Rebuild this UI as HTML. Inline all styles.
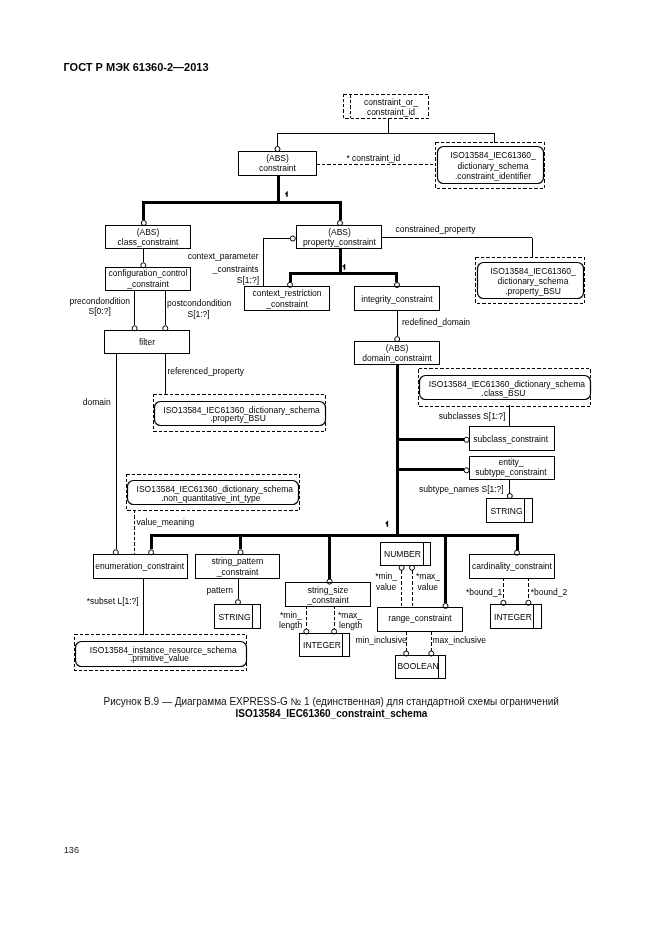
<!DOCTYPE html>
<html><head><meta charset="utf-8"><style>
html,body{margin:0;padding:0;background:#fff;}
svg{display:block;will-change:transform;}
text{font-family:"Liberation Sans",sans-serif;}
</style></head><body>
<svg width="661" height="935" viewBox="0 0 661 935">
<rect width="661" height="935" fill="#fff"/>
<circle cx="277.5" cy="149.0" r="2.5" fill="#fff" stroke="#000" stroke-width="1"/>
<circle cx="143.8" cy="223.0" r="2.5" fill="#fff" stroke="#000" stroke-width="1"/>
<circle cx="340" cy="223.0" r="2.5" fill="#fff" stroke="#000" stroke-width="1"/>
<circle cx="292.8" cy="238.5" r="2.5" fill="#fff" stroke="#000" stroke-width="1"/>
<circle cx="143.3" cy="265.3" r="2.5" fill="#fff" stroke="#000" stroke-width="1"/>
<circle cx="134.6" cy="328.3" r="2.5" fill="#fff" stroke="#000" stroke-width="1"/>
<circle cx="165.3" cy="328.3" r="2.5" fill="#fff" stroke="#000" stroke-width="1"/>
<circle cx="290" cy="284.8" r="2.5" fill="#fff" stroke="#000" stroke-width="1"/>
<circle cx="397" cy="285.0" r="2.5" fill="#fff" stroke="#000" stroke-width="1"/>
<circle cx="397.2" cy="339.1" r="2.5" fill="#fff" stroke="#000" stroke-width="1"/>
<circle cx="466.6" cy="439.8" r="2.5" fill="#fff" stroke="#000" stroke-width="1"/>
<circle cx="466.6" cy="470.3" r="2.5" fill="#fff" stroke="#000" stroke-width="1"/>
<circle cx="509.8" cy="496.0" r="2.5" fill="#fff" stroke="#000" stroke-width="1"/>
<circle cx="115.8" cy="552.3" r="2.5" fill="#fff" stroke="#000" stroke-width="1"/>
<circle cx="151.1" cy="552.3" r="2.5" fill="#fff" stroke="#000" stroke-width="1"/>
<circle cx="240.5" cy="552.3" r="2.5" fill="#fff" stroke="#000" stroke-width="1"/>
<circle cx="329.6" cy="581.6" r="2.5" fill="#fff" stroke="#000" stroke-width="1"/>
<circle cx="445.5" cy="605.9" r="2.5" fill="#fff" stroke="#000" stroke-width="1"/>
<circle cx="517" cy="552.7" r="2.5" fill="#fff" stroke="#000" stroke-width="1"/>
<circle cx="238" cy="602.2" r="2.5" fill="#fff" stroke="#000" stroke-width="1"/>
<circle cx="306.3" cy="631.5" r="2.5" fill="#fff" stroke="#000" stroke-width="1"/>
<circle cx="334.1" cy="631.5" r="2.5" fill="#fff" stroke="#000" stroke-width="1"/>
<circle cx="401.6" cy="567.8" r="2.5" fill="#fff" stroke="#000" stroke-width="1"/>
<circle cx="412" cy="567.8" r="2.5" fill="#fff" stroke="#000" stroke-width="1"/>
<circle cx="406.2" cy="653.5" r="2.5" fill="#fff" stroke="#000" stroke-width="1"/>
<circle cx="431.3" cy="653.5" r="2.5" fill="#fff" stroke="#000" stroke-width="1"/>
<circle cx="503.4" cy="602.8" r="2.5" fill="#fff" stroke="#000" stroke-width="1"/>
<circle cx="528.4" cy="602.8" r="2.5" fill="#fff" stroke="#000" stroke-width="1"/>
<text x="63.5" y="71" font-size="11" font-weight="bold" fill="#000">ГОСТ Р МЭК 61360-2—2013</text>
<rect x="343.5" y="94.5" width="85.0" height="24.0" fill="none" stroke="#000" stroke-width="1" stroke-dasharray="3.4 2" shape-rendering="crispEdges"/>
<line x1="350.5" y1="94.5" x2="350.5" y2="118" stroke="#000" stroke-width="1" stroke-dasharray="3.4 2" shape-rendering="crispEdges"/>
<text x="391" y="105" font-size="8.5" text-anchor="middle" fill="#000">constraint_or_</text>
<text x="391" y="114.5" font-size="8.5" text-anchor="middle" fill="#000">constraint_id</text>
<line x1="388.5" y1="118" x2="388.5" y2="133" stroke="#000" stroke-width="1" shape-rendering="crispEdges"/>
<line x1="277.5" y1="133.5" x2="494.5" y2="133.5" stroke="#000" stroke-width="1" shape-rendering="crispEdges"/>
<line x1="277.5" y1="133" x2="277.5" y2="146" stroke="#000" stroke-width="1" shape-rendering="crispEdges"/>
<line x1="494.5" y1="133" x2="494.5" y2="142.5" stroke="#000" stroke-width="1" shape-rendering="crispEdges"/>
<rect x="238.5" y="151.5" width="78.0" height="24.0" fill="none" stroke="#000" stroke-width="1" shape-rendering="crispEdges"/>
<text x="277.5" y="160.5" font-size="8.5" text-anchor="middle" fill="#000">(ABS)</text>
<text x="277.5" y="171" font-size="8.5" text-anchor="middle" fill="#000">constraint</text>
<line x1="316.5" y1="164.5" x2="435.5" y2="164.5" stroke="#000" stroke-width="1" stroke-dasharray="3.4 2" shape-rendering="crispEdges"/>
<text x="346.4" y="160.7" font-size="8.5" fill="#000">* constraint_id</text>
<rect x="435.5" y="142.5" width="109.0" height="46.0" fill="none" stroke="#000" stroke-width="1" stroke-dasharray="3.4 2" shape-rendering="crispEdges"/>
<rect x="437.5" y="146.5" width="106.0" height="37.0" fill="none" stroke="#000" stroke-width="1.2" rx="6"/>
<text x="493" y="158.3" font-size="8.5" text-anchor="middle" fill="#000">ISO13584_IEC61360_</text>
<text x="493" y="169" font-size="8.5" text-anchor="middle" fill="#000">dictionary_schema</text>
<text x="493" y="179" font-size="8.5" text-anchor="middle" fill="#000">.constraint_identifier</text>
<line x1="278.5" y1="175.5" x2="278.5" y2="202.3" stroke="#000" stroke-width="3" shape-rendering="crispEdges"/>
<line x1="142.3" y1="202.5" x2="341.5" y2="202.5" stroke="#000" stroke-width="3" shape-rendering="crispEdges"/>
<line x1="143.5" y1="202.3" x2="143.5" y2="220" stroke="#000" stroke-width="3" shape-rendering="crispEdges"/>
<line x1="340.5" y1="202.3" x2="340.5" y2="220" stroke="#000" stroke-width="3" shape-rendering="crispEdges"/>
<path d="M287,196.8 V192.6 L285.4,194.2" stroke="#000" stroke-width="1.5" fill="none"/>
<rect x="105.5" y="225.5" width="85.0" height="23.0" fill="none" stroke="#000" stroke-width="1" shape-rendering="crispEdges"/>
<text x="148" y="235" font-size="8.5" text-anchor="middle" fill="#000">(ABS)</text>
<text x="148" y="245" font-size="8.5" text-anchor="middle" fill="#000">class_constraint</text>
<rect x="296.5" y="225.5" width="85.0" height="23.0" fill="none" stroke="#000" stroke-width="1" shape-rendering="crispEdges"/>
<text x="339.5" y="235" font-size="8.5" text-anchor="middle" fill="#000">(ABS)</text>
<text x="339.5" y="245" font-size="8.5" text-anchor="middle" fill="#000">property_constraint</text>
<line x1="263.5" y1="238.5" x2="290.3" y2="238.5" stroke="#000" stroke-width="1" shape-rendering="crispEdges"/>
<line x1="263.5" y1="238" x2="263.5" y2="286.7" stroke="#000" stroke-width="1" shape-rendering="crispEdges"/>
<text x="258.5" y="258.6" font-size="8.5" text-anchor="end" fill="#000">context_parameter</text>
<text x="258.5" y="271.8" font-size="8.5" text-anchor="end" fill="#000">_constraints</text>
<text x="259" y="283.4" font-size="8.5" text-anchor="end" fill="#000">S[1:?]</text>
<line x1="381.5" y1="237.5" x2="532" y2="237.5" stroke="#000" stroke-width="1" shape-rendering="crispEdges"/>
<line x1="532.5" y1="237.5" x2="532.5" y2="257.5" stroke="#000" stroke-width="1" shape-rendering="crispEdges"/>
<text x="395.6" y="231.7" font-size="8.5" fill="#000">constrained_property</text>
<rect x="475.5" y="257.5" width="109.0" height="46.0" fill="none" stroke="#000" stroke-width="1" stroke-dasharray="3.4 2" shape-rendering="crispEdges"/>
<rect x="477.5" y="262.5" width="106.0" height="36.0" fill="none" stroke="#000" stroke-width="1.2" rx="6"/>
<text x="533" y="274" font-size="8.5" text-anchor="middle" fill="#000">ISO13584_IEC61360_</text>
<text x="533" y="283.8" font-size="8.5" text-anchor="middle" fill="#000">dictionary_schema</text>
<text x="533" y="293.7" font-size="8.5" text-anchor="middle" fill="#000">.property_BSU</text>
<line x1="143.5" y1="248.5" x2="143.5" y2="262.3" stroke="#000" stroke-width="1" shape-rendering="crispEdges"/>
<rect x="105.5" y="267.5" width="85.0" height="23.0" fill="none" stroke="#000" stroke-width="1" shape-rendering="crispEdges"/>
<text x="148" y="276" font-size="8.5" text-anchor="middle" fill="#000">configuration_control</text>
<text x="148" y="287" font-size="8.5" text-anchor="middle" fill="#000">_constraint</text>
<line x1="134.5" y1="290.5" x2="134.5" y2="325.3" stroke="#000" stroke-width="1" shape-rendering="crispEdges"/>
<line x1="165.5" y1="290.5" x2="165.5" y2="325.3" stroke="#000" stroke-width="1" shape-rendering="crispEdges"/>
<text x="69.5" y="303.6" font-size="8.5" fill="#000">precondondition</text>
<text x="88.6" y="313.6" font-size="8.5" fill="#000">S[0:?]</text>
<text x="167" y="306.2" font-size="8.5" fill="#000">postcondondition</text>
<text x="187.5" y="316.8" font-size="8.5" fill="#000">S[1:?]</text>
<rect x="104.5" y="330.5" width="85.0" height="23.0" fill="none" stroke="#000" stroke-width="1" shape-rendering="crispEdges"/>
<text x="147" y="344.7" font-size="8.5" text-anchor="middle" fill="#000">filter</text>
<line x1="340.5" y1="248.5" x2="340.5" y2="273.8" stroke="#000" stroke-width="3" shape-rendering="crispEdges"/>
<line x1="289" y1="273.5" x2="398" y2="273.5" stroke="#000" stroke-width="3" shape-rendering="crispEdges"/>
<line x1="290.5" y1="273.8" x2="290.5" y2="282" stroke="#000" stroke-width="3" shape-rendering="crispEdges"/>
<line x1="396.5" y1="273.8" x2="396.5" y2="282" stroke="#000" stroke-width="3" shape-rendering="crispEdges"/>
<path d="M344.5,269.8 V265.2 L342.9,266.8" stroke="#000" stroke-width="1.5" fill="none"/>
<rect x="244.5" y="286.5" width="85.0" height="24.0" fill="none" stroke="#000" stroke-width="1" shape-rendering="crispEdges"/>
<text x="287" y="296.2" font-size="8.5" text-anchor="middle" fill="#000">context_restriction</text>
<text x="287" y="306.7" font-size="8.5" text-anchor="middle" fill="#000">_constraint</text>
<rect x="354.5" y="286.5" width="85.0" height="24.0" fill="none" stroke="#000" stroke-width="1" shape-rendering="crispEdges"/>
<text x="397" y="302" font-size="8.5" text-anchor="middle" fill="#000">integrity_constraint</text>
<line x1="397.5" y1="310" x2="397.5" y2="336" stroke="#000" stroke-width="1" shape-rendering="crispEdges"/>
<text x="402" y="324.8" font-size="8.5" fill="#000">redefined_domain</text>
<rect x="354.5" y="341.5" width="85.0" height="23.0" fill="none" stroke="#000" stroke-width="1" shape-rendering="crispEdges"/>
<text x="397" y="351" font-size="8.5" text-anchor="middle" fill="#000">(ABS)</text>
<text x="397" y="361" font-size="8.5" text-anchor="middle" fill="#000">domain_constraint</text>
<line x1="397.5" y1="364" x2="397.5" y2="535.3" stroke="#000" stroke-width="3" shape-rendering="crispEdges"/>
<rect x="418.5" y="368.5" width="172.0" height="38.0" fill="none" stroke="#000" stroke-width="1" stroke-dasharray="3.4 2" shape-rendering="crispEdges"/>
<rect x="419.5" y="375.5" width="171.0" height="24.0" fill="none" stroke="#000" stroke-width="1.2" rx="6"/>
<text x="428.7" y="387.2" font-size="8.5" fill="#000">ISO13584_IEC61360_dictionary_schema</text>
<text x="503.5" y="396.3" font-size="8.5" text-anchor="middle" fill="#000">.class_BSU</text>
<line x1="509.5" y1="405" x2="509.5" y2="426.8" stroke="#000" stroke-width="1" shape-rendering="crispEdges"/>
<text x="438.7" y="419.1" font-size="8.5" fill="#000">subclasses S[1:?]</text>
<rect x="469.5" y="426.5" width="85.0" height="24.0" fill="none" stroke="#000" stroke-width="1" shape-rendering="crispEdges"/>
<text x="510.7" y="442.1" font-size="8.5" text-anchor="middle" fill="#000">subclass_constraint</text>
<line x1="397.5" y1="439.5" x2="464" y2="439.5" stroke="#000" stroke-width="3" shape-rendering="crispEdges"/>
<rect x="469.5" y="456.5" width="85.0" height="23.0" fill="none" stroke="#000" stroke-width="1" shape-rendering="crispEdges"/>
<text x="511" y="465.4" font-size="8.5" text-anchor="middle" fill="#000">entity_</text>
<text x="511" y="474.7" font-size="8.5" text-anchor="middle" fill="#000">subtype_constraint</text>
<line x1="397.5" y1="469.5" x2="464" y2="469.5" stroke="#000" stroke-width="3" shape-rendering="crispEdges"/>
<line x1="509.5" y1="479.3" x2="509.5" y2="494" stroke="#000" stroke-width="1" shape-rendering="crispEdges"/>
<text x="419.1" y="492.1" font-size="8.5" fill="#000">subtype_names S[1:?]</text>
<rect x="486.5" y="498.5" width="46.0" height="24.0" fill="none" stroke="#000" stroke-width="1" shape-rendering="crispEdges"/>
<line x1="524.5" y1="498.5" x2="524.5" y2="522.5" stroke="#000" stroke-width="1" shape-rendering="crispEdges"/>
<text x="506.5" y="514" font-size="8.5" text-anchor="middle" fill="#000">STRING</text>
<line x1="116.5" y1="353.5" x2="116.5" y2="549.3" stroke="#000" stroke-width="1" shape-rendering="crispEdges"/>
<text x="82.8" y="404.7" font-size="8.5" fill="#000">domain</text>
<line x1="165.5" y1="353.5" x2="165.5" y2="394.5" stroke="#000" stroke-width="1" shape-rendering="crispEdges"/>
<text x="167.4" y="374.1" font-size="8.5" fill="#000">referenced_property</text>
<rect x="153.5" y="394.5" width="172.0" height="37.0" fill="none" stroke="#000" stroke-width="1" stroke-dasharray="3.4 2" shape-rendering="crispEdges"/>
<rect x="154.5" y="401.5" width="171.0" height="24.0" fill="none" stroke="#000" stroke-width="1.2" rx="6"/>
<text x="163.3" y="413.3" font-size="8.5" fill="#000">ISO13584_IEC61360_dictionary_schema</text>
<text x="238" y="421" font-size="8.5" text-anchor="middle" fill="#000">.property_BSU</text>
<rect x="126.5" y="474.5" width="173.0" height="36.0" fill="none" stroke="#000" stroke-width="1" stroke-dasharray="3.4 2" shape-rendering="crispEdges"/>
<rect x="127.5" y="480.5" width="171.0" height="24.0" fill="none" stroke="#000" stroke-width="1.2" rx="6"/>
<text x="136.6" y="492.4" font-size="8.5" fill="#000">ISO13584_IEC61360_dictionary_schema</text>
<text x="210.8" y="501" font-size="8.5" text-anchor="middle" fill="#000">.non_quantitative_int_type</text>
<line x1="134.5" y1="510" x2="134.5" y2="554.2" stroke="#000" stroke-width="1" stroke-dasharray="3.4 2" shape-rendering="crispEdges"/>
<text x="136.6" y="525" font-size="8.5" fill="#000">value_meaning</text>
<rect x="74.5" y="634.5" width="172.0" height="36.0" fill="none" stroke="#000" stroke-width="1" stroke-dasharray="3.4 2" shape-rendering="crispEdges"/>
<rect x="75.5" y="641.5" width="171.0" height="25.0" fill="none" stroke="#000" stroke-width="1.2" rx="6"/>
<text x="89.7" y="652.5" font-size="8.5" fill="#000">ISO13584_instance_resource_schema</text>
<text x="159.5" y="661" font-size="8.5" text-anchor="middle" fill="#000">.primitive_value</text>
<line x1="149.6" y1="535.5" x2="518.5" y2="535.5" stroke="#000" stroke-width="3" shape-rendering="crispEdges"/>
<path d="M387.4,526.8 V522 L385.79999999999995,523.6" stroke="#000" stroke-width="1.5" fill="none"/>
<line x1="151.5" y1="535.3" x2="151.5" y2="549.3" stroke="#000" stroke-width="3" shape-rendering="crispEdges"/>
<line x1="240.5" y1="535.3" x2="240.5" y2="549.3" stroke="#000" stroke-width="3" shape-rendering="crispEdges"/>
<line x1="329.5" y1="535.3" x2="329.5" y2="578.6" stroke="#000" stroke-width="3" shape-rendering="crispEdges"/>
<line x1="445.5" y1="535.3" x2="445.5" y2="602.9" stroke="#000" stroke-width="3" shape-rendering="crispEdges"/>
<line x1="517.5" y1="535.3" x2="517.5" y2="549.7" stroke="#000" stroke-width="3" shape-rendering="crispEdges"/>
<rect x="93.5" y="554.5" width="94.0" height="24.0" fill="none" stroke="#000" stroke-width="1" shape-rendering="crispEdges"/>
<text x="139.7" y="569" font-size="8.5" text-anchor="middle" fill="#000">enumeration_constraint</text>
<line x1="143.5" y1="578" x2="143.5" y2="635" stroke="#000" stroke-width="1" shape-rendering="crispEdges"/>
<text x="86.7" y="604" font-size="8.5" fill="#000">*subset L[1:?]</text>
<rect x="195.5" y="554.5" width="84.0" height="24.0" fill="none" stroke="#000" stroke-width="1" shape-rendering="crispEdges"/>
<text x="237.5" y="563.8" font-size="8.5" text-anchor="middle" fill="#000">string_pattern</text>
<text x="237.5" y="574.7" font-size="8.5" text-anchor="middle" fill="#000">_constraint</text>
<line x1="238.5" y1="578" x2="238.5" y2="599.2" stroke="#000" stroke-width="1" shape-rendering="crispEdges"/>
<text x="206.5" y="592.6" font-size="8.5" fill="#000">pattern</text>
<rect x="214.5" y="604.5" width="46.0" height="24.0" fill="none" stroke="#000" stroke-width="1" shape-rendering="crispEdges"/>
<line x1="252.5" y1="604.5" x2="252.5" y2="628.5" stroke="#000" stroke-width="1" shape-rendering="crispEdges"/>
<text x="234.5" y="619.8" font-size="8.5" text-anchor="middle" fill="#000">STRING</text>
<rect x="285.5" y="582.5" width="85.0" height="24.0" fill="none" stroke="#000" stroke-width="1" shape-rendering="crispEdges"/>
<text x="328" y="593.2" font-size="8.5" text-anchor="middle" fill="#000">string_size</text>
<text x="328" y="603.2" font-size="8.5" text-anchor="middle" fill="#000">_constraint</text>
<line x1="306.5" y1="606" x2="306.5" y2="628.5" stroke="#000" stroke-width="1" stroke-dasharray="3.4 2" shape-rendering="crispEdges"/>
<line x1="334.5" y1="606" x2="334.5" y2="628.5" stroke="#000" stroke-width="1" stroke-dasharray="3.4 2" shape-rendering="crispEdges"/>
<text x="280" y="618.3" font-size="8.5" fill="#000">*min_</text>
<text x="279" y="628" font-size="8.5" fill="#000">length</text>
<text x="338" y="618.3" font-size="8.5" fill="#000">*max_</text>
<text x="339" y="628" font-size="8.5" fill="#000">length</text>
<rect x="299.5" y="633.5" width="50.0" height="23.0" fill="none" stroke="#000" stroke-width="1" shape-rendering="crispEdges"/>
<line x1="342.5" y1="633.5" x2="342.5" y2="656" stroke="#000" stroke-width="1" shape-rendering="crispEdges"/>
<text x="322" y="647.8" font-size="8.5" text-anchor="middle" fill="#000">INTEGER</text>
<rect x="380.5" y="542.5" width="50.0" height="23.0" fill="none" stroke="#000" stroke-width="1" shape-rendering="crispEdges"/>
<line x1="423.5" y1="542.5" x2="423.5" y2="565.5" stroke="#000" stroke-width="1" shape-rendering="crispEdges"/>
<text x="402.5" y="556.9" font-size="8.5" text-anchor="middle" fill="#000">NUMBER</text>
<line x1="401.5" y1="570.3" x2="401.5" y2="607.5" stroke="#000" stroke-width="1" stroke-dasharray="3.4 2" shape-rendering="crispEdges"/>
<line x1="412.5" y1="570.3" x2="412.5" y2="607.5" stroke="#000" stroke-width="1" stroke-dasharray="3.4 2" shape-rendering="crispEdges"/>
<text x="375.3" y="579.4" font-size="8.5" fill="#000">*min_</text>
<text x="376" y="589.8" font-size="8.5" fill="#000">value</text>
<text x="416" y="579.4" font-size="8.5" fill="#000">*max_</text>
<text x="417.6" y="589.8" font-size="8.5" fill="#000">value</text>
<rect x="377.5" y="607.5" width="85.0" height="24.0" fill="none" stroke="#000" stroke-width="1" shape-rendering="crispEdges"/>
<text x="420" y="621.4" font-size="8.5" text-anchor="middle" fill="#000">range_constraint</text>
<line x1="406.5" y1="631.5" x2="406.5" y2="650.5" stroke="#000" stroke-width="1" stroke-dasharray="3.4 2" shape-rendering="crispEdges"/>
<line x1="431.5" y1="631.5" x2="431.5" y2="650.5" stroke="#000" stroke-width="1" stroke-dasharray="3.4 2" shape-rendering="crispEdges"/>
<text x="355.6" y="643.3" font-size="8.5" fill="#000">min_inclusive</text>
<text x="432.5" y="643.3" font-size="8.5" fill="#000">max_inclusive</text>
<rect x="395.5" y="655.5" width="50.0" height="23.0" fill="none" stroke="#000" stroke-width="1" shape-rendering="crispEdges"/>
<line x1="438.5" y1="655.5" x2="438.5" y2="678" stroke="#000" stroke-width="1" shape-rendering="crispEdges"/>
<text x="418" y="669" font-size="8.5" text-anchor="middle" fill="#000">BOOLEAN</text>
<rect x="469.5" y="554.5" width="85.0" height="24.0" fill="none" stroke="#000" stroke-width="1" shape-rendering="crispEdges"/>
<text x="512" y="569.2" font-size="8.5" text-anchor="middle" fill="#000">cardinality_constraint</text>
<line x1="503.5" y1="578" x2="503.5" y2="599.8" stroke="#000" stroke-width="1" stroke-dasharray="3.4 2" shape-rendering="crispEdges"/>
<line x1="528.5" y1="578" x2="528.5" y2="599.8" stroke="#000" stroke-width="1" stroke-dasharray="3.4 2" shape-rendering="crispEdges"/>
<text x="465.9" y="594.5" font-size="8.5" fill="#000">*bound_1</text>
<text x="530.8" y="594.5" font-size="8.5" fill="#000">*bound_2</text>
<rect x="490.5" y="604.5" width="51.0" height="24.0" fill="none" stroke="#000" stroke-width="1" shape-rendering="crispEdges"/>
<line x1="533.5" y1="604.5" x2="533.5" y2="628.5" stroke="#000" stroke-width="1" shape-rendering="crispEdges"/>
<text x="513" y="620" font-size="8.5" text-anchor="middle" fill="#000">INTEGER</text>
<text x="103.6" y="704.5" font-size="10" fill="#111">Рисунок В.9 — Диаграмма EXPRESS-G № 1 (единственная) для стандартной схемы ограничений</text>
<text x="331.5" y="716.6" font-size="10" text-anchor="middle" font-weight="bold" fill="#000">ISO13584_IEC61360_constraint_schema</text>
<text transform="translate(63.7,852.9) scale(0.93,1)" x="0" y="0" font-size="9.9" fill="#222">136</text>
</svg></body></html>
